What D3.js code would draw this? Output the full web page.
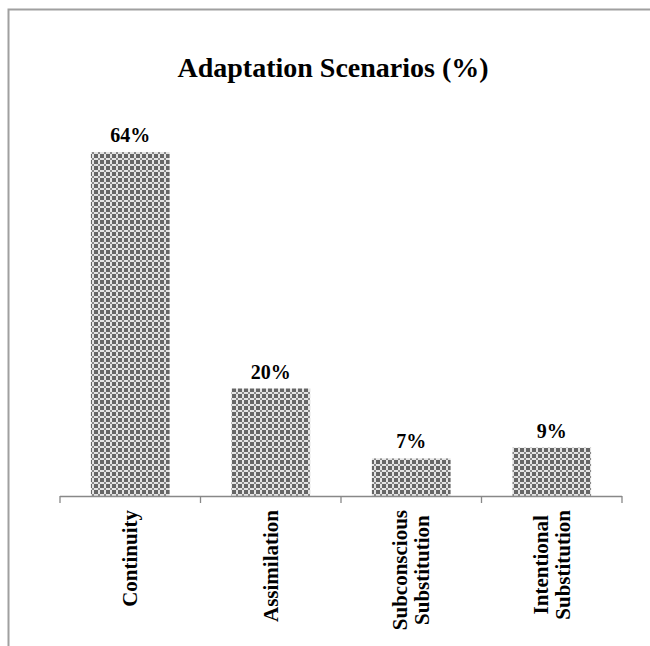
<!DOCTYPE html>
<html>
<head>
<meta charset="utf-8">
<script src="https://cdn.jsdelivr.net/npm/d3@7"></script>
<style>
  body { margin: 0; background: #fff; }
  text { font-family: "Liberation Serif", "Times New Roman", serif; font-weight: bold; fill: #000; }
</style>
</head>
<body>
<svg width="650" height="646"></svg>
<script>
const categories = [["Continuity"], ["Assimilation"], ["Subconscious", "Substitution"], ["Intentional", "Substitution"]];
const values = [64, 20, 7, 9];
const valueLabels = ["64%", "20%", "7%", "9%"];
const title = "Adaptation Scenarios (%)";

const svg = d3.select("svg");

// chart border (runs off the right and bottom edges)
svg.append("rect")
  .attr("x", 8.5).attr("y", 9.5)
  .attr("width", 700).attr("height", 700)
  .attr("fill", "none")
  .attr("stroke", "#a0a0a0")
  .attr("stroke-width", 2);

// crosshatch pattern used by the bars
const pat = svg.append("defs").append("pattern")
  .attr("id", "hatch")
  .attr("patternUnits", "userSpaceOnUse")
  .attr("width", 6).attr("height", 6);
pat.append("rect").attr("width", 6).attr("height", 6).attr("fill", "#666");
pat.append("rect").attr("x", 2).attr("y", 0).attr("width", 2).attr("height", 6).attr("fill", "#e4e4e4");
pat.append("rect").attr("x", 0).attr("y", 2).attr("width", 6).attr("height", 2).attr("fill", "#e4e4e4");
pat.append("rect").attr("x", 2).attr("y", 2).attr("width", 2).attr("height", 2).attr("fill", "#888");

const x = d3.scaleBand()
  .domain(d3.range(categories.length))
  .range([60, 622])
  .paddingInner(0.44)
  .paddingOuter(0.22);

const y = d3.scaleLinear().domain([0, 64]).range([496, 152]);

svg.append("text")
  .attr("x", 333).attr("y", 77)
  .attr("text-anchor", "middle")
  .style("font-size", "28px")
  .text(title);

svg.selectAll("rect.bar")
  .data(values)
  .enter()
  .append("rect")
  .attr("class", "bar")
  .attr("x", (d, i) => x(i))
  .attr("y", d => y(d))
  .attr("width", x.bandwidth())
  .attr("height", d => y(0) - y(d))
  .attr("fill", "url(#hatch)");

svg.selectAll("text.val")
  .data(values)
  .enter()
  .append("text")
  .attr("class", "val")
  .attr("x", (d, i) => x(i) + x.bandwidth() / 2)
  .attr("y", d => y(d) - 10)
  .attr("text-anchor", "middle")
  .style("font-size", "20px")
  .text((d, i) => valueLabels[i]);

// axis line with boundary ticks
const step = x.step();
const x0 = x.range()[0];
const axis = svg.append("g").attr("stroke", "#888").attr("stroke-width", 1.3);
axis.append("line")
  .attr("x1", x0).attr("x2", x.range()[1])
  .attr("y1", y(0) + 0.5).attr("y2", y(0) + 0.5);
axis.selectAll("line.tick")
  .data(d3.range(categories.length + 1))
  .enter()
  .append("line")
  .attr("class", "tick")
  .attr("x1", i => x0 + i * step).attr("x2", i => x0 + i * step)
  .attr("y1", y(0)).attr("y2", y(0) + 7);

// rotated category labels, lines centred within block, block anchored at top
const labelTop = 510;
const lineGap = 22;
categories.forEach((lines, i) => {
  const cx = x0 + (i + 0.5) * step;
  const g = svg.append("g");
  const texts = lines.map((t, j) => {
    return g.append("text")
      .style("font-size", "21px")
      .attr("text-anchor", "middle")
      .text(t);
  });
  const maxW = d3.max(texts, t => t.node().getComputedTextLength());
  texts.forEach((t, j) => {
    const off = (j - (lines.length - 1) / 2) * lineGap;
    t.attr("transform", `translate(${cx + off + 7},${labelTop + maxW / 2}) rotate(-90)`);
  });
});
</script>
</body>
</html>
